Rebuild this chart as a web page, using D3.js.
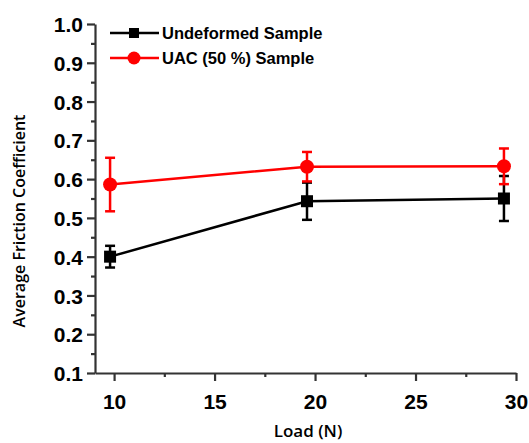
<!DOCTYPE html>
<html>
<head>
<meta charset="utf-8">
<script src="https://cdn.jsdelivr.net/npm/d3@7"></script>
<style>
  body { margin: 0; background: #fff; }
  svg { display: block; }
</style>
</head>
<body>
<div id="chart"></div>
<script>
// data
var loads = [9.8, 19.6, 29.4];
var undeformed = [0.40, 0.543, 0.55];
var undeformedErr = [0.028, 0.048, 0.058];
var uac = [0.586, 0.632, 0.633];
var uacErr = [0.069, 0.038, 0.046];
var xTicks = [10, 15, 20, 25, 30];
var yTicks = [0.1, 0.2, 0.3, 0.4, 0.5, 0.6, 0.7, 0.8, 0.9, 1.0];
var seriesNames = ["Undeformed Sample", "UAC (50 %) Sample"];

var width = 529, height = 443;
var margin = {top: 24, right: 13, bottom: 70, left: 95};

var svg = d3.select("#chart").append("svg")
    .attr("width", width)
    .attr("height", height);

var x = d3.scaleLinear().domain([9.05, 30]).range([margin.left, width - margin.right]);
var y = d3.scaleLinear().domain([0.1, 1.0]).range([height - margin.bottom, margin.top]);

var axisColor = "#333";

//////////////////////// axes ////////////////////////
var xAxis = svg.append("g")
    .attr("transform", "translate(0," + y(0.1) + ")")
    .call(d3.axisBottom(x).tickValues(xTicks).tickSize(8).tickSizeOuter(0).tickFormat(d3.format("d")));

// minor x ticks
svg.append("g")
    .attr("transform", "translate(0," + y(0.1) + ")")
    .call(d3.axisBottom(x).tickValues([12.5, 17.5, 22.5, 27.5]).tickSize(4).tickSizeOuter(0).tickFormat(""))
    .select(".domain").remove();

var yAxis = svg.append("g")
    .attr("transform", "translate(" + x(9.05) + ",0)")
    .call(d3.axisLeft(y).tickValues(yTicks).tickSize(8).tickSizeOuter(0).tickFormat(d3.format(".1f")));

svg.append("g")
    .attr("transform", "translate(" + x(9.05) + ",0)")
    .call(d3.axisLeft(y).tickValues(d3.range(0.15, 1.0, 0.1)).tickSize(4).tickSizeOuter(0).tickFormat(""))
    .select(".domain").remove();

svg.selectAll(".domain, .tick line")
    .attr("stroke", axisColor)
    .attr("stroke-width", 2.2);

xAxis.selectAll("text")
    .attr("dy", "1.2em")
    .style("font-family", "Liberation Sans, Arial, sans-serif")
    .style("font-weight", "bold")
    .style("font-size", "21px")
    .attr("fill", "#000");

yAxis.selectAll("text")
    .attr("x", -12)
    .attr("dy", "0.36em")
    .style("font-family", "Liberation Sans, Arial, sans-serif")
    .style("font-weight", "bold")
    .style("font-size", "21px")
    .attr("fill", "#000");

// axis titles
svg.append("text")
    .attr("x", 308)
    .attr("y", 437)
    .attr("text-anchor", "middle")
    .style("font-family", "Open Sans, sans-serif")
    .style("font-weight", "600")
    .style("font-size", "17px")
    .text("Load (N)");

svg.append("text")
    .attr("transform", "translate(25,221) rotate(-90)")
    .attr("text-anchor", "middle")
    .style("font-family", "Open Sans, sans-serif")
    .style("font-weight", "600")
    .style("font-size", "16px")
    .text("Average Friction Coefficient");

//////////////////////// series ////////////////////////
var series = [
    {name: seriesNames[0], values: undeformed, err: undeformedErr, color: "#000", shape: "square"},
    {name: seriesNames[1], values: uac, err: uacErr, color: "#f00", shape: "circle"}
];

var line = d3.line()
    .x(function(d) { return x(d.x); })
    .y(function(d) { return y(d.y); });

series.forEach(function(s) {
    var pts = loads.map(function(l, i) { return {x: l, y: s.values[i], e: s.err[i]}; });
    var g = svg.append("g");

    g.append("path")
        .datum(pts)
        .attr("d", line)
        .attr("fill", "none")
        .attr("stroke", s.color)
        .attr("stroke-width", 2.5);

    // error bars
    var eb = g.selectAll(".err").data(pts).enter().append("g");
    eb.append("line")
        .attr("x1", function(d) { return x(d.x); })
        .attr("x2", function(d) { return x(d.x); })
        .attr("y1", function(d) { return y(d.y + d.e); })
        .attr("y2", function(d) { return y(d.y - d.e); })
        .attr("stroke", s.color).attr("stroke-width", 2.5);
    [1, -1].forEach(function(sg) {
        eb.append("line")
            .attr("x1", function(d) { return x(d.x) - 5; })
            .attr("x2", function(d) { return x(d.x) + 5; })
            .attr("y1", function(d) { return y(d.y + sg * d.e); })
            .attr("y2", function(d) { return y(d.y + sg * d.e); })
            .attr("stroke", s.color).attr("stroke-width", 2.5);
    });

    if (s.shape === "square") {
        g.selectAll(".pt").data(pts).enter().append("rect")
            .attr("x", function(d) { return x(d.x) - 6; })
            .attr("y", function(d) { return y(d.y) - 6; })
            .attr("width", 12).attr("height", 12)
            .attr("fill", s.color);
    } else {
        g.selectAll(".pt").data(pts).enter().append("circle")
            .attr("cx", function(d) { return x(d.x); })
            .attr("cy", function(d) { return y(d.y); })
            .attr("r", 7)
            .attr("fill", s.color);
    }
});

//////////////////////// legend ////////////////////////
var legend = svg.append("g");
series.forEach(function(s, i) {
    var ly = 33 + i * 25;
    legend.append("line")
        .attr("x1", 110).attr("x2", 159)
        .attr("y1", ly).attr("y2", ly)
        .attr("stroke", s.color).attr("stroke-width", 2.5);
    if (s.shape === "square") {
        legend.append("rect").attr("x", 129).attr("y", ly - 5).attr("width", 10).attr("height", 10).attr("fill", s.color);
    } else {
        legend.append("circle").attr("cx", 134).attr("cy", ly).attr("r", 6.5).attr("fill", s.color);
    }
    legend.append("text")
        .attr("x", 162)
        .attr("y", ly)
        .attr("dy", "0.36em")
        .style("font-family", "Liberation Sans, Arial, sans-serif")
        .style("font-weight", "bold")
        .style("font-size", "16.5px")
        .text(s.name);
});
</script>
</body>
</html>
